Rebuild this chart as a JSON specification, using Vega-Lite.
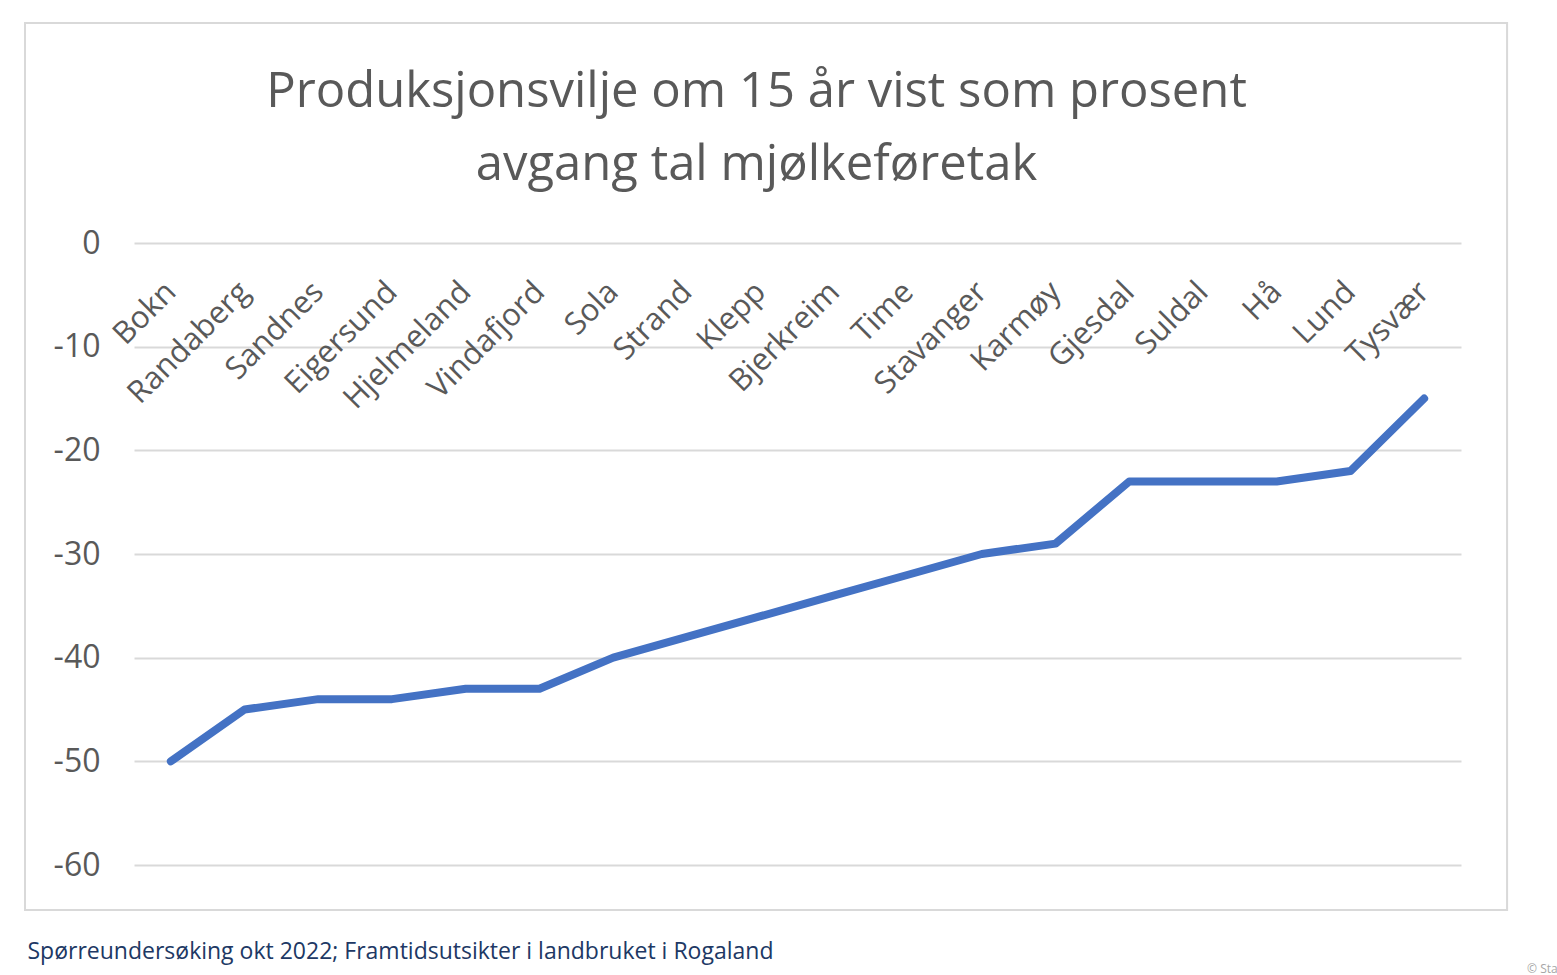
{
  "$schema": "https://vega.github.io/schema/vega-lite/v6.json",
  "width": 1327,
  "height": 622,
  "autosize": {"type": "none"},
  "padding": {"left": 134, "top": 243, "right": 96, "bottom": 110},
  "background": "white",
  "title": {
    "text": ["Produksjonsvilje om 15 år vist som prosent", "avgang tal mjølkeføretak"],
    "anchor": "middle",
    "dx": -41,
    "offset": -168,
    "fontSize": 49,
    "fontWeight": "normal",
    "color": "#595959",
    "lineHeight": 73
  },
  "config": {
    "font": "Open Sans",
    "view": {"stroke": null}
  },
  "layer": [
    {
      "data": {"values": [{}]},
      "layer": [
        {
          "mark": {"type": "rect", "filled": false, "color": "#d9d9d9", "strokeWidth": 2},
          "encoding": {
            "x": {
              "datum": -1.4786,
              "type": "quantitative",
              "scale": {"domain": [0, 18], "nice": false, "zero": false},
              "axis": {
                "orient": "bottom",
                "labels": false,
                "ticks": false,
                "domain": false,
                "grid": false,
                "title": "Spørreundersøking okt 2022; Framtidsutsikter i landbruket i Rogaland",
                "titleFontSize": 23,
                "titleFontWeight": "normal",
                "titleColor": "#203864",
                "titleAnchor": "start",
                "titleAlign": "left",
                "titleBaseline": "alphabetic",
                "titleX": -107,
                "titleY": 93
              }
            },
            "x2": {"datum": 18.625},
            "y": {"datum": 21.22, "type": "quantitative", "title": null},
            "y2": {"datum": -64.34}
          }
        },
        {
          "mark": {"type": "text", "align": "left", "baseline": "middle", "fontSize": 12, "color": "#a6a6a6"},
          "encoding": {
            "text": {"value": "© Sta"},
            "x": {"datum": 18.896, "type": "quantitative"},
            "y": {"datum": -70.0, "type": "quantitative"}
          }
        }
      ]
    },
    {
      "data": {
        "values": [
          {"kommune": "Bokn", "prosent": -50},
          {"kommune": "Randaberg", "prosent": -45},
          {"kommune": "Sandnes", "prosent": -44},
          {"kommune": "Eigersund", "prosent": -44},
          {"kommune": "Hjelmeland", "prosent": -43},
          {"kommune": "Vindafjord", "prosent": -43},
          {"kommune": "Sola", "prosent": -40},
          {"kommune": "Strand", "prosent": -38},
          {"kommune": "Klepp", "prosent": -36},
          {"kommune": "Bjerkreim", "prosent": -34},
          {"kommune": "Time", "prosent": -32},
          {"kommune": "Stavanger", "prosent": -30},
          {"kommune": "Karmøy", "prosent": -29},
          {"kommune": "Gjesdal", "prosent": -23},
          {"kommune": "Suldal", "prosent": -23},
          {"kommune": "Hå", "prosent": -23},
          {"kommune": "Lund", "prosent": -22},
          {"kommune": "Tysvær", "prosent": -15}
        ]
      },
      "mark": {"type": "line", "color": "#4472c4", "strokeWidth": 8, "strokeCap": "round", "strokeJoin": "round"},
      "encoding": {
        "x": {
          "field": "kommune",
          "type": "nominal",
          "sort": null,
          "scale": {"type": "point", "padding": 0.5},
          "axis": {
            "orient": "top",
            "title": null,
            "labelAngle": -45,
            "labelAlign": "right",
            "labelBaseline": "middle",
            "labelPadding": -44,
            "labelOffset": 0,
            "labelFontSize": 31,
            "labelColor": "#595959",
            "labelLimit": 0,
            "labelOverlap": false,
            "domain": false,
            "ticks": false,
            "grid": false
          }
        },
        "y": {
          "field": "prosent",
          "type": "quantitative",
          "scale": {"domain": [-60, 0], "nice": false},
          "axis": {
            "title": null,
            "values": [-60, -50, -40, -30, -20, -10, 0],
            "labelExpr": "replace(datum.label, '−', '-')",
            "grid": true,
            "gridColor": "#d9d9d9",
            "gridWidth": 2,
            "domain": false,
            "ticks": false,
            "labelFontSize": 32,
            "labelColor": "#595959",
            "labelPadding": 34
          }
        }
      }
    }
  ],
  "resolve": {"scale": {"x": "independent"}, "axis": {"x": "independent"}}
}
